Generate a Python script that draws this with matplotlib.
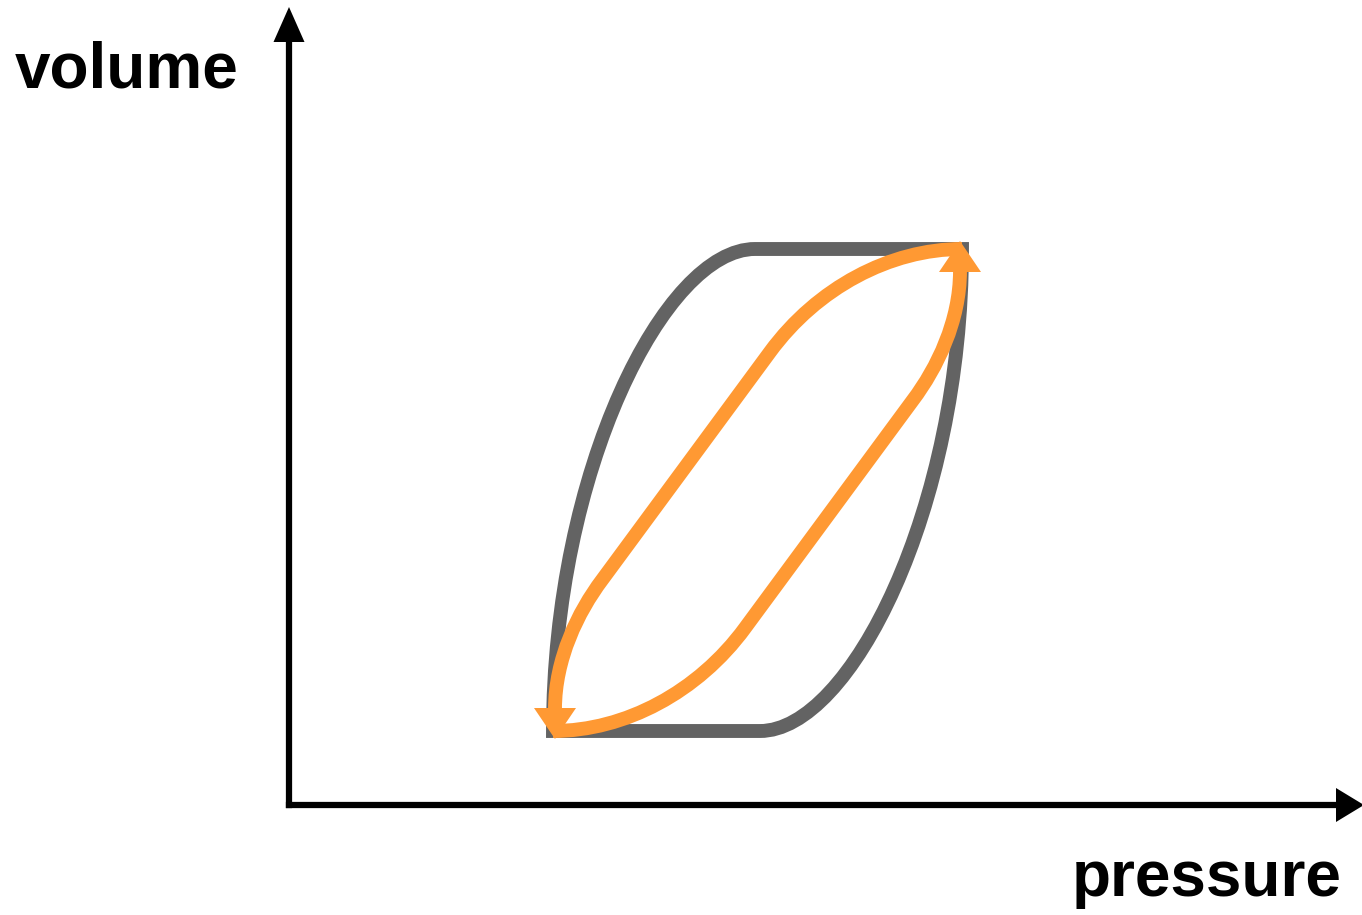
import matplotlib.pyplot as plt
from matplotlib.path import Path
from matplotlib.patches import PathPatch, Polygon

# loop shapes, in (pressure, volume) units measured from the axes origin
gray_loop = [(264, 74), (264, 334), (376, 556), (466, 556),
             (673, 556), (673, 296), (561, 74), (471, 74),
             (264, 74)]
gray_codes = [Path.MOVETO, Path.CURVE4, Path.CURVE4, Path.CURVE4,
              Path.LINETO, Path.CURVE4, Path.CURVE4, Path.CURVE4,
              Path.CLOSEPOLY]

orange_down = [(673, 556), (601, 556), (528, 517), (481, 453),
               (313, 225), (289, 193), (266, 146), (266, 96)]
orange_up = [(264, 74), (336, 74), (409, 113), (456, 177),
             (624, 405), (648, 437), (671, 484), (671, 534)]
orange_codes = [Path.MOVETO, Path.CURVE4, Path.CURVE4, Path.CURVE4,
                Path.LINETO, Path.CURVE4, Path.CURVE4, Path.CURVE4]

# arrow tips (point, direction)
orange_tips = [((266, 66), (0, -1)), ((671, 564), (0, 1))]
x_axis_end = 1075
y_axis_end = 798

GRAY = '#636363'
ORANGE = '#FF9933'


def arrowhead(ax, tip, direction, length, width, color):
    tx, ty = tip
    dx, dy = direction
    bx, by = tx - dx * length, ty - dy * length
    px, py = -dy * width / 2, dx * width / 2
    ax.add_patch(Polygon([(tx, ty), (bx + px, by + py), (bx - px, by - py)],
                         closed=True, facecolor=color, edgecolor='none', zorder=5))


fig = plt.figure(figsize=(13.62, 9.15), dpi=100)
ax = fig.add_axes([0, 0, 1, 1])
ax.set_xlim(-289, 1073)
ax.set_ylim(-110, 805)
ax.axis('off')

# axes with arrows
ax.plot([0, 0], [0, y_axis_end - 30], color='black', lw=4.5, solid_capstyle='projecting')
ax.plot([0, x_axis_end - 28], [0, 0], color='black', lw=4.5, solid_capstyle='projecting')
arrowhead(ax, (0, y_axis_end), (0, 1), 35, 31, 'black')
arrowhead(ax, (x_axis_end, 0), (1, 0), 28, 34, 'black')

ax.add_patch(PathPatch(Path(gray_loop, gray_codes), facecolor='none',
                       edgecolor=GRAY, lw=10, joinstyle='miter', zorder=2))
for verts in (orange_down, orange_up):
    ax.add_patch(PathPatch(Path(verts, orange_codes), facecolor='none',
                           edgecolor=ORANGE, lw=10, capstyle='butt', zorder=3))
for tip, d in orange_tips:
    arrowhead(ax, tip, d, 31, 42, ORANGE)

ax.text(-274, 718, 'volume', fontsize=46, fontweight='bold',
        family='Liberation Sans', ha='left', va='baseline')
ax.text(1053, -91, 'pressure', fontsize=46, fontweight='bold',
        family='Liberation Sans', ha='right', va='baseline')

fig.savefig('out.png', dpi=100)
